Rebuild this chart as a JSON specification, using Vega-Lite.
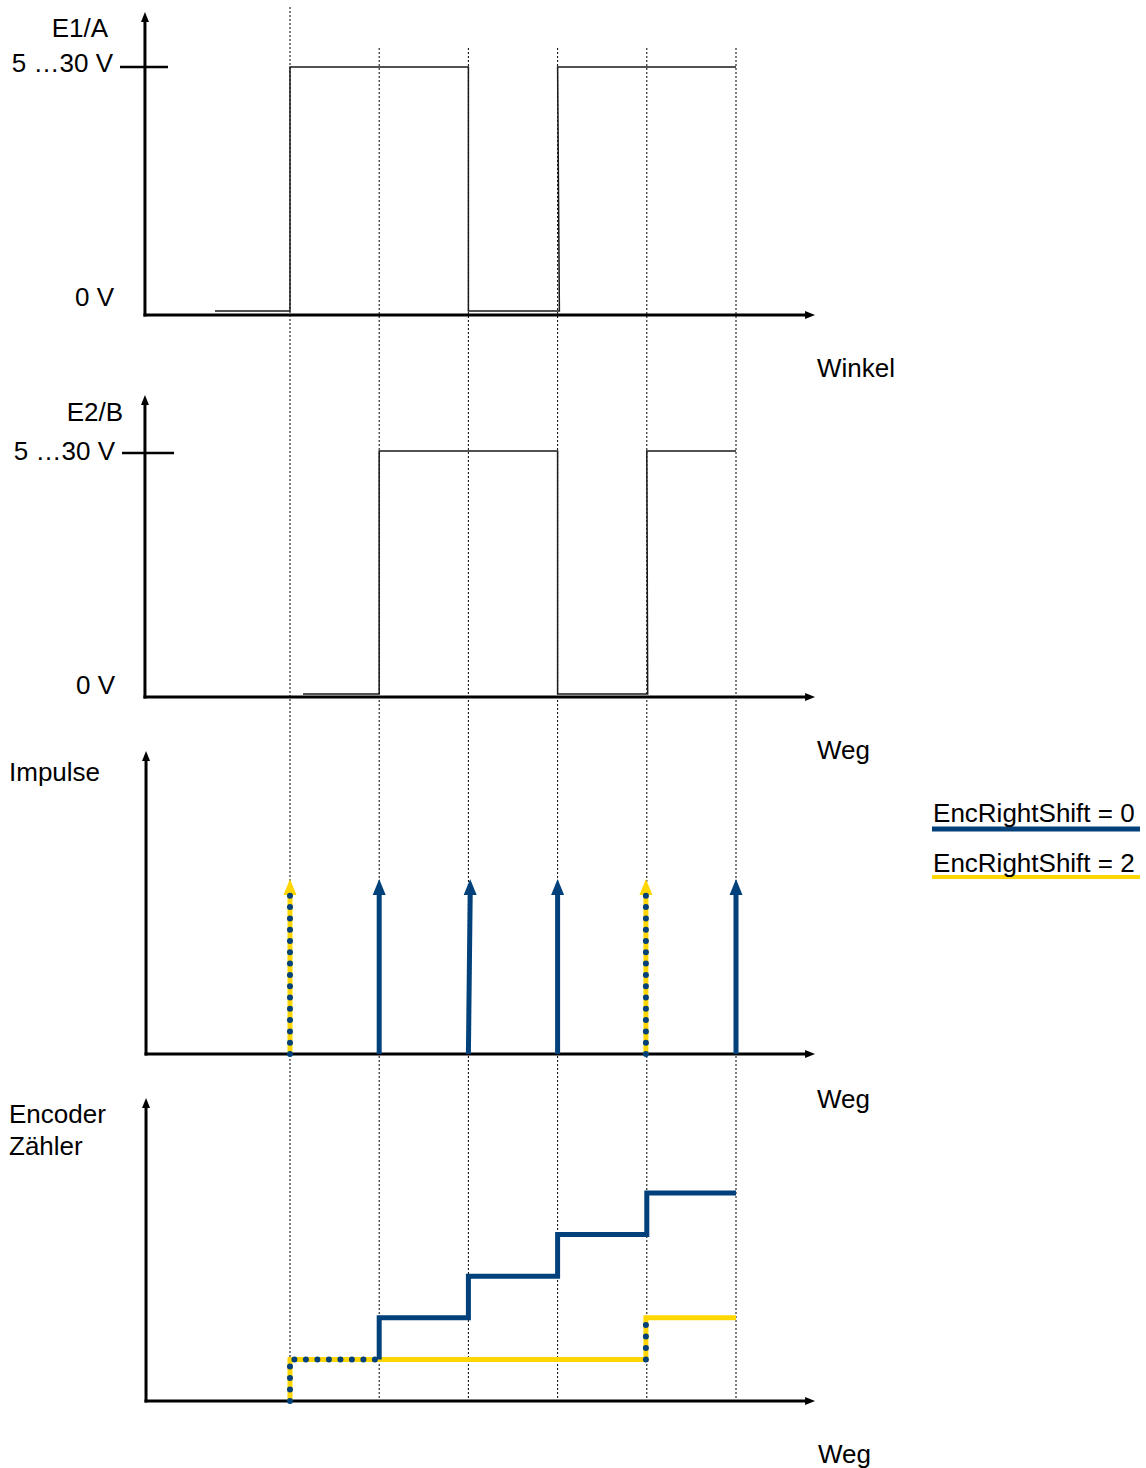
{
  "$schema": "https://vega.github.io/schema/vega-lite/v6.json",
  "width": 1146,
  "height": 1468,
  "autosize": {"type": "fit", "contains": "padding"},
  "padding": 0,
  "background": "white",
  "config": {"view": {"stroke": null}},
  "datasets": {
    "grid": [
      {"x": 1, "y": 33.51, "y2": 0},
      {"x": 2, "y": 32.524, "y2": 0},
      {"x": 3, "y": 32.524, "y2": 0},
      {"x": 4, "y": 32.524, "y2": 0},
      {"x": 5, "y": 32.524, "y2": 0},
      {"x": 6, "y": 32.524, "y2": 0}
    ],
    "sig": [
      {"s": "E1", "i": 1, "x": 0.159, "y": 26.202},
      {"s": "E1", "i": 2, "x": 1, "y": 26.202},
      {"s": "E1", "i": 3, "x": 1, "y": 32.067},
      {"s": "E1", "i": 4, "x": 3, "y": 32.067},
      {"s": "E1", "i": 5, "x": 3, "y": 26.202},
      {"s": "E1", "i": 6, "x": 4.02, "y": 26.202},
      {"s": "E1", "i": 7, "x": 4, "y": 32.067},
      {"s": "E1", "i": 8, "x": 6, "y": 32.067},
      {"s": "E2", "i": 1, "x": 1.146, "y": 16.995},
      {"s": "E2", "i": 2, "x": 2, "y": 16.995},
      {"s": "E2", "i": 3, "x": 2, "y": 22.837},
      {"s": "E2", "i": 4, "x": 4, "y": 22.837},
      {"s": "E2", "i": 5, "x": 4, "y": 16.995},
      {"s": "E2", "i": 6, "x": 5.01, "y": 16.995},
      {"s": "E2", "i": 7, "x": 5, "y": 22.837},
      {"s": "E2", "i": 8, "x": 6, "y": 22.837}
    ],
    "axes": [
      {"x": -0.626, "x2": -0.626, "y": 26.106, "y2": 33.197},
      {"x": -0.626, "x2": 6.807, "y": 26.106, "y2": 26.106},
      {"x": -0.626, "x2": -0.626, "y": 16.923, "y2": 23.99},
      {"x": -0.626, "x2": 6.807, "y": 16.923, "y2": 16.923},
      {"x": -0.614, "x2": -0.614, "y": 8.341, "y2": 15.433},
      {"x": -0.614, "x2": 6.807, "y": 8.341, "y2": 8.341},
      {"x": -0.614, "x2": -0.614, "y": 0, "y2": 7.115},
      {"x": -0.614, "x2": 6.807, "y": 0, "y2": 0}
    ],
    "ticks": [
      {"x": -0.906, "x2": -0.368, "y": 32.067, "y2": 32.067},
      {"x": -0.883, "x2": -0.3, "y": 22.788, "y2": 22.788}
    ],
    "upheads": [
      {"x": -0.626, "y": 33.389},
      {"x": -0.626, "y": 24.183},
      {"x": -0.614, "y": 15.625},
      {"x": -0.614, "y": 7.284}
    ],
    "rightheads": [
      {"x": 6.886, "y": 26.106},
      {"x": 6.886, "y": 16.923},
      {"x": 6.886, "y": 8.341},
      {"x": 6.886, "y": 0}
    ],
    "impBlue": [
      {"x": 2, "x2": 2, "y": 8.341, "y2": 12.163},
      {"x": 3, "x2": 3.02, "y": 8.341, "y2": 12.163},
      {"x": 4, "x2": 4, "y": 8.341, "y2": 12.163},
      {"x": 6, "x2": 6, "y": 8.341, "y2": 12.163}
    ],
    "impBlueHeads": [
      {"x": 2, "y": 12.548},
      {"x": 3.02, "y": 12.548},
      {"x": 4, "y": 12.548},
      {"x": 6, "y": 12.548}
    ],
    "impYel": [
      {"x": 1, "x2": 1, "y": 8.341, "y2": 12.163},
      {"x": 4.99, "x2": 4.99, "y": 8.341, "y2": 12.163}
    ],
    "impYelHeads": [
      {"x": 1, "y": 12.548},
      {"x": 4.99, "y": 12.548}
    ],
    "encY": [
      {"i": 1, "x": 1, "y": 0},
      {"i": 2, "x": 1, "y": 1},
      {"i": 3, "x": 4.99, "y": 1},
      {"i": 4, "x": 4.99, "y": 2},
      {"i": 5, "x": 6, "y": 2}
    ],
    "encB": [
      {"i": 1, "x": 2, "y": 1},
      {"i": 2, "x": 2, "y": 2},
      {"i": 3, "x": 3, "y": 2},
      {"i": 4, "x": 3, "y": 3},
      {"i": 5, "x": 4, "y": 3},
      {"i": 6, "x": 4, "y": 4},
      {"i": 7, "x": 5, "y": 4},
      {"i": 8, "x": 5, "y": 5},
      {"i": 9, "x": 6, "y": 5}
    ],
    "encD": [
      {"s": "a", "i": 1, "x": 1, "y": 0},
      {"s": "a", "i": 2, "x": 1, "y": 1},
      {"s": "a", "i": 3, "x": 2, "y": 1},
      {"s": "b", "i": 1, "x": 4.99, "y": 1},
      {"s": "b", "i": 2, "x": 4.99, "y": 2}
    ],
    "legBlue": [{"x": 8.197, "x2": 10.529, "y": 13.75}],
    "legYel": [{"x": 8.197, "x2": 10.529, "y": 12.596}],
    "textR": [
      {"t": "E1/A", "x": -1.04, "y": 32.788},
      {"t": "5 …30 V", "x": -0.984, "y": 31.947},
      {"t": "0 V", "x": -0.973, "y": 26.322},
      {"t": "E2/B", "x": -0.872, "y": 23.558},
      {"t": "5 …30 V", "x": -0.962, "y": 22.62},
      {"t": "0 V", "x": -0.962, "y": 16.995}
    ],
    "textL": [
      {"t": "Winkel", "x": 6.908, "y": 24.615},
      {"t": "Weg", "x": 6.908, "y": 15.433},
      {"t": "Impulse", "x": -2.15, "y": 14.904},
      {"t": "Weg", "x": 6.908, "y": 7.043},
      {"t": "Encoder", "x": -2.15, "y": 6.683},
      {"t": "Zähler", "x": -2.15, "y": 5.913},
      {"t": "Weg", "x": 6.919, "y": -1.49},
      {"t": "EncRightShift = 0", "x": 8.209, "y": 13.918},
      {"t": "EncRightShift = 2", "x": 8.209, "y": 12.716}
    ]
  },
  "encoding": {
    "x": {"field": "x", "type": "quantitative", "scale": {"domain": [-2.2511, 10.5964], "nice": false, "zero": false}, "axis": null},
    "y": {"field": "y", "type": "quantitative", "scale": {"domain": [-1.6106, 33.6779], "nice": false, "zero": false}, "axis": null}
  },
  "layer": [
    {
      "data": {"name": "grid"},
      "mark": {"type": "rule", "color": "#000000", "strokeWidth": 1, "strokeDash": [2, 2]},
      "encoding": {"y2": {"field": "y2"}}
    },
    {
      "data": {"name": "sig"},
      "mark": {"type": "line", "color": "#1a1a1a", "strokeWidth": 1.5, "strokeJoin": "miter"},
      "encoding": {"detail": {"field": "s"}, "order": {"field": "i", "type": "quantitative"}}
    },
    {
      "data": {"name": "axes"},
      "mark": {"type": "rule", "color": "#000000", "strokeWidth": 3, "strokeCap": "square"},
      "encoding": {"x2": {"field": "x2"}, "y2": {"field": "y2"}}
    },
    {
      "data": {"name": "ticks"},
      "mark": {"type": "rule", "color": "#000000", "strokeWidth": 2.5},
      "encoding": {"x2": {"field": "x2"}, "y2": {"field": "y2"}}
    },
    {
      "data": {"name": "upheads"},
      "mark": {"type": "point", "shape": "M0,0 L0.4,1 L-0.4,1 Z", "size": 400, "filled": true, "color": "#000000", "opacity": 1, "strokeWidth": 0}
    },
    {
      "data": {"name": "rightheads"},
      "mark": {"type": "point", "shape": "M0,0 L-1,-0.4 L-1,0.4 Z", "size": 400, "filled": true, "color": "#000000", "opacity": 1, "strokeWidth": 0}
    },
    {
      "data": {"name": "impYel"},
      "mark": {"type": "rule", "color": "#ffd600", "strokeWidth": 5},
      "encoding": {"x2": {"field": "x2"}, "y2": {"field": "y2"}}
    },
    {
      "data": {"name": "impYelHeads"},
      "mark": {"type": "point", "shape": "M0,0 L0.65,1.6 L-0.65,1.6 Z", "size": 400, "filled": true, "color": "#ffd600", "opacity": 1, "strokeWidth": 0}
    },
    {
      "data": {"name": "impYel"},
      "mark": {"type": "rule", "color": "#00417b", "strokeWidth": 6, "strokeDash": [0, 11.3], "strokeCap": "round"},
      "encoding": {"x2": {"field": "x2"}, "y2": {"field": "y2"}}
    },
    {
      "data": {"name": "impBlue"},
      "mark": {"type": "rule", "color": "#00417b", "strokeWidth": 5},
      "encoding": {"x2": {"field": "x2"}, "y2": {"field": "y2"}}
    },
    {
      "data": {"name": "impBlueHeads"},
      "mark": {"type": "point", "shape": "M0,0 L0.65,1.6 L-0.65,1.6 Z", "size": 400, "filled": true, "color": "#00417b", "opacity": 1, "strokeWidth": 0}
    },
    {
      "data": {"name": "encY"},
      "mark": {"type": "line", "color": "#ffd600", "strokeWidth": 5, "strokeJoin": "miter", "strokeCap": "butt"},
      "encoding": {"order": {"field": "i", "type": "quantitative"}}
    },
    {
      "data": {"name": "encB"},
      "mark": {"type": "line", "color": "#00417b", "strokeWidth": 5, "strokeJoin": "miter", "strokeCap": "butt"},
      "encoding": {"order": {"field": "i", "type": "quantitative"}}
    },
    {
      "data": {"name": "encD"},
      "mark": {"type": "line", "color": "#00417b", "strokeWidth": 6, "strokeDash": [0, 11.5], "strokeCap": "round"},
      "encoding": {"detail": {"field": "s"}, "order": {"field": "i", "type": "quantitative"}}
    },
    {
      "data": {"name": "legBlue"},
      "mark": {"type": "rule", "color": "#00417b", "strokeWidth": 5},
      "encoding": {"x2": {"field": "x2"}}
    },
    {
      "data": {"name": "legYel"},
      "mark": {"type": "rule", "color": "#ffd600", "strokeWidth": 4},
      "encoding": {"x2": {"field": "x2"}}
    },
    {
      "data": {"name": "textR"},
      "mark": {"type": "text", "align": "right", "baseline": "alphabetic", "font": "Liberation Sans", "fontSize": 26, "color": "#000000"},
      "encoding": {"text": {"field": "t"}}
    },
    {
      "data": {"name": "textL"},
      "mark": {"type": "text", "align": "left", "baseline": "alphabetic", "font": "Liberation Sans", "fontSize": 26, "color": "#000000"},
      "encoding": {"text": {"field": "t"}}
    }
  ]
}
